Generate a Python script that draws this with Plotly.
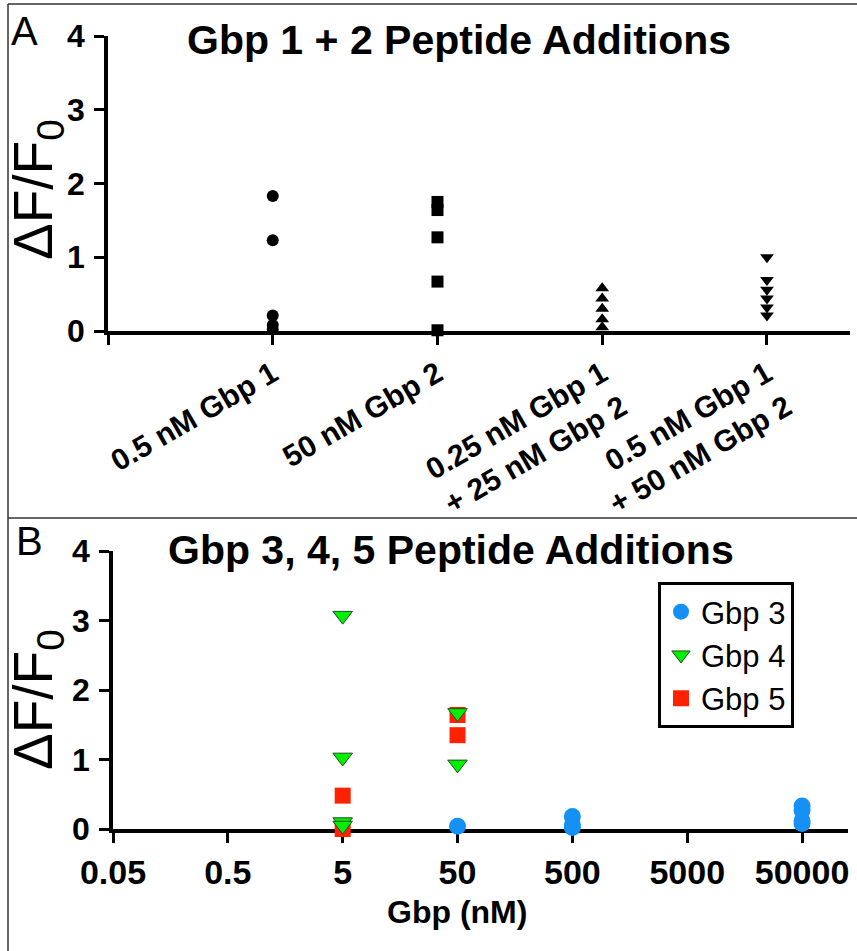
import plotly.graph_objects as go

W, H = 857, 951

# ---------------- Panel A data ----------------
catA = ["0.5 nM Gbp 1", "50 nM Gbp 2", "0.25 nM Gbp 1<br>+ 25 nM Gbp 2", "0.5 nM Gbp 1<br>+ 50 nM Gbp 2"]
a_gbp1 = [1.83, 1.23, 0.21, 0.08, 0.02]
a_gbp2 = [1.75, 1.64, 1.27, 0.67, 0.01]
a_gbp12_low = [0.58, 0.44, 0.30, 0.16, 0.05]
a_gbp12_high = [1.00, 0.69, 0.56, 0.44, 0.32, 0.21]

# ---------------- Panel B data ----------------
b_gbp3_x = [50, 500, 500, 500, 50000, 50000, 50000, 50000]
b_gbp3_y = [0.04, 0.18, 0.06, 0.02, 0.33, 0.27, 0.12, 0.08]
b_gbp4_x = [5, 5, 5, 5, 50, 50]
b_gbp4_y = [3.07, 1.03, 0.10, 0.05, 1.67, 0.93]
b_gbp5_x = [5, 5, 50, 50]
b_gbp5_y = [0.48, 0.00, 1.64, 1.35]
b_xticks = [0.05, 0.5, 5, 50, 500, 5000, 50000]
b_xticklabels = ["0.05", "0.5", "5", "50", "500", "5000", "50000"]
y_ticks = [0, 1, 2, 3, 4]

FONT = "Liberation Sans, Arial, sans-serif"

def px_x(p):
    return p / W

def px_y(p):
    return (H - p) / H

fig = go.Figure()

# Panel A traces
markerA = dict(color="black", size=12)
for vals, sym, idx in [(a_gbp1, "circle", 0), (a_gbp2, "square", 1),
                       (a_gbp12_low, "triangle-up", 2), (a_gbp12_high, "triangle-down", 3)]:
    fig.add_trace(go.Scatter(
        x=[idx] * len(vals), y=vals, mode="markers",
        marker=dict(symbol=sym, **markerA), showlegend=False,
        xaxis="x", yaxis="y", cliponaxis=False))

# Panel B traces (Gbp 5 drawn before Gbp 4 so triangles sit on top)
fig.add_trace(go.Scatter(
    x=b_gbp3_x, y=b_gbp3_y, mode="markers", name="Gbp 3",
    marker=dict(symbol="circle", size=17, color="#1591F5"),
    xaxis="x2", yaxis="y2", cliponaxis=False, legendrank=1))
fig.add_trace(go.Scatter(
    x=b_gbp5_x, y=b_gbp5_y, mode="markers", name="Gbp 5",
    marker=dict(symbol="square", size=16, color="#FF2200"),
    xaxis="x2", yaxis="y2", cliponaxis=False, legendrank=3))
fig.add_trace(go.Scatter(
    x=b_gbp4_x, y=b_gbp4_y, mode="markers", name="Gbp 4",
    marker=dict(symbol="triangle-down", size=17, color="#00F000",
                line=dict(color="#1F4F1F", width=1)),
    xaxis="x2", yaxis="y2", cliponaxis=False, legendrank=2))

def axis_style(size=30, standoff=0):
    return dict(showgrid=False, zeroline=False, showline=True, linecolor="black",
                linewidth=3.5, ticks="outside", ticklen=10, tickwidth=3,
                tickcolor="black", layer="below traces", automargin=False,
                ticklabelstandoff=standoff,
                tickfont=dict(family=FONT, size=size, color="black", weight="bold"))

fig.update_layout(
    template="none",
    width=W, height=H,
    margin=dict(l=0, r=0, t=0, b=0, pad=0, autoexpand=False),
    paper_bgcolor="white", plot_bgcolor="white",
    font=dict(family=FONT, color="black"),
    xaxis=dict(domain=[px_x(108), px_x(850)], range=[-1, 3.504],
               tickvals=[-1, 0, 1, 2, 3], ticktext=[" "] + catA, tickangle=-30,
               anchor="y", **axis_style(30)),
    yaxis=dict(domain=[px_y(331), px_y(36)], range=[0, 4], tickvals=y_ticks,
               anchor="x", **axis_style(32, 3)),
    xaxis2=dict(domain=[px_x(113), px_x(848)], type="log",
                range=[-1.30103, 5.099], tickvals=b_xticks, ticktext=b_xticklabels,
                tickangle=0, anchor="y2", **axis_style(34)),
    yaxis2=dict(domain=[px_y(829), px_y(551)], range=[0, 4], tickvals=y_ticks,
                anchor="x2", **axis_style(32, 3)),
    legend=dict(x=px_x(658), y=px_y(582), xanchor="left", yanchor="top",
                bordercolor="black", borderwidth=3, bgcolor="white",
                font=dict(family=FONT, size=31, color="black"),
                itemsizing="trace", tracegroupgap=0),
    showlegend=True,
)

annotations = [
    dict(text="<b>Gbp 1 + 2 Peptide Additions</b>", x=px_x(459), y=px_y(40),
         font=dict(size=41)),
    dict(text="<b>Gbp 3, 4, 5 Peptide Additions</b>", x=px_x(451), y=px_y(550),
         font=dict(size=41)),
    dict(text="ΔF/F<sub>0</sub>", x=px_x(37), y=px_y(190), textangle=-90,
         font=dict(size=55)),
    dict(text="ΔF/F<sub>0</sub>", x=px_x(37), y=px_y(700), textangle=-90,
         font=dict(size=55)),
    dict(text="A", x=px_x(24), y=px_y(31), font=dict(size=40)),
    dict(text="B", x=px_x(30), y=px_y(541), font=dict(size=40)),
    dict(text="<b>Gbp (nM)</b>", x=px_x(457), y=px_y(912), font=dict(size=32)),
]
for a in annotations:
    a.update(xref="paper", yref="paper", showarrow=False, xanchor="center", yanchor="middle")
    a["font"].update(family=FONT, color="black")
fig.update_layout(annotations=annotations)

line_style = dict(color="#333333", width=1.5)
fig.update_layout(shapes=[
    dict(type="line", xref="paper", yref="paper", x0=px_x(8), x1=1, y0=px_y(4), y1=px_y(4), line=line_style),
    dict(type="line", xref="paper", yref="paper", x0=px_x(8), x1=px_x(8), y0=0, y1=px_y(4), line=line_style),
    dict(type="line", xref="paper", yref="paper", x0=px_x(8), x1=1, y0=px_y(518), y1=px_y(518), line=line_style),
])

fig.write_html("out.html")
